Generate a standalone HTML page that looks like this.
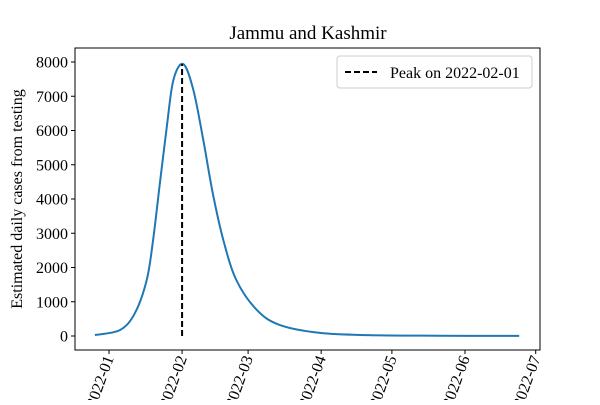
<!DOCTYPE html>
<html><head><meta charset="utf-8"><style>
body{margin:0;background:#fff}
svg text{font-family:"Liberation Serif",serif;fill:#000}
</style></head><body>
<svg width="600" height="400" xmlns="http://www.w3.org/2000/svg">
<g id="root"></g>
</svg>
<script>
const dayValues = [-6, 4.7, 11, 16, 18.7, 21.6, 24.5, 27.3, 31.5, 35.8, 40, 44, 48.5, 54, 62.7, 72.5, 89.5, 110, 140, 174];
const caseValues = [30, 175, 670, 1635, 2800, 4470, 6100, 7470, 7940, 7180, 5720, 4175, 2800, 1635, 760, 320, 90, 25, 8, 3];
const yTicks = [0,1000,2000,3000,4000,5000,6000,7000,8000];
const xTickDays = [0,31,59,90,120,151,181];
const xTickLabels = ["2022-01","2022-02","2022-03","2022-04","2022-05","2022-06","2022-07"];
const peakDay = 31;
const peakLabel = "Peak on 2022-02-01";

const L=75,R=540,T=48,B=350;
const xS=d=>109+d*(426.7/181);
const yS=v=>336-v*(274/8000);
const NS="http://www.w3.org/2000/svg";
const root=document.getElementById('root');
function mk(tag,attrs,parent){const e=document.createElementNS(NS,tag);for(const k in attrs)e.setAttribute(k,attrs[k]);(parent||root).appendChild(e);return e;}

const t=mk('text',{x:308,y:39,'text-anchor':'middle','font-size':19});
t.textContent='Jammu and Kashmir';



// y ticks
yTicks.forEach(v=>{
  const y=yS(v);
  const l=mk('line',{x1:L-4,x2:L,y1:y,y2:y,stroke:'#000','stroke-width':1});
  
  
  const tx=mk('text',{x:L-7,y:y+5.5,'text-anchor':'end','font-size':16});
  tx.textContent=v;
  
  
});
const yl=mk('text',{x:0,y:0,'text-anchor':'middle','font-size':16,transform:'translate(22,199) rotate(-90)'});
yl.textContent='Estimated daily cases from testing';



// x ticks
xTickDays.forEach((d,i)=>{
  const x=xS(d);
  const l=mk('line',{x1:x,x2:x,y1:B,y2:B+4,stroke:'#000','stroke-width':1});
  
  
  const tx=mk('text',{x:0,y:0,'text-anchor':'end','font-size':16,transform:`translate(${x+5},${B+8}) rotate(-70)`});
  tx.textContent=xTickLabels[i];
  
  
});

// curve (Catmull-Rom)
const pts=dayValues.map((d,i)=>[xS(d),yS(caseValues[i])]);
let dstr=`M${pts[0][0]},${pts[0][1]}`;
for(let i=0;i<pts.length-1;i++){
  const p0=pts[Math.max(i-1,0)],p1=pts[i],p2=pts[i+1],p3=pts[Math.min(i+2,pts.length-1)];
  const c1=[p1[0]+(p2[0]-p0[0])/6,p1[1]+(p2[1]-p0[1])/6];
  const c2=[p2[0]-(p3[0]-p1[0])/6,p2[1]-(p3[1]-p1[1])/6];
  dstr+=` C${c1[0]},${c1[1]} ${c2[0]},${c2[1]} ${p2[0]},${p2[1]}`;
}
const cp=mk('path',{d:dstr,fill:'none',stroke:'#1f77b4','stroke-width':2});



const maxV=Math.max(...caseValues);
const pk=mk('line',{x1:xS(peakDay),x2:xS(peakDay),y1:yS(0),y2:yS(maxV),stroke:'#000','stroke-width':2,'stroke-dasharray':'6,3'});



const fr=mk('rect',{x:L,y:T,width:R-L,height:B-T,fill:'none',stroke:'#000','stroke-width':1});



// legend
const lg=mk('g',{});


mk('rect',{x:337,y:56,width:195,height:32,rx:3,fill:'#fff',stroke:'#ccc'},lg);
const ll=mk('line',{x1:345,x2:377,y1:72,y2:72,stroke:'#000','stroke-width':2,'stroke-dasharray':'6,3'},lg);


const lt=mk('text',{x:390,y:78,'font-size':16},lg);
lt.textContent=peakLabel;


</script>
</body></html>
